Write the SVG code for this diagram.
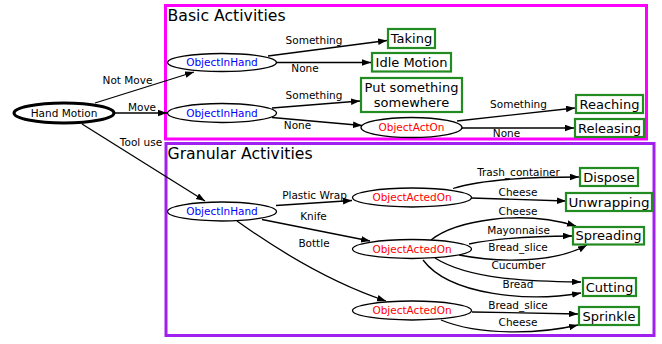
<svg xmlns="http://www.w3.org/2000/svg" width="662" height="344" viewBox="0 0 662 344">
<style>
text{font-family:"DejaVu Sans","Liberation Sans",sans-serif;}
.el{font-size:10.5px;fill:#000;text-anchor:middle;}
.nl{font-size:10.5px;text-anchor:middle;}
.blue{fill:#0000ff;}
.red{fill:#ff0000;}
.bx{fill:#fff;stroke:#228b22;stroke-width:2.2;}
.bt{font-size:13px;fill:#000;text-anchor:middle;}
.ov{fill:#fff;stroke:#000;stroke-width:1.3;}
.e{fill:none;stroke:#000;stroke-width:1.3;marker-end:url(#ah);}
.ttl{font-size:15.7px;fill:#000;}
</style>
<defs>
<marker id="ah" markerUnits="userSpaceOnUse" markerWidth="10" markerHeight="8" refX="9" refY="3.3" orient="auto">
<path d="M0,0 L9,3.3 L0,6.6 z" fill="#000"/>
</marker>
</defs>
<rect width="662" height="344" fill="#fff"/>
<g id="cluster-basic">
<rect x="165.5" y="5.5" width="481" height="133.5" fill="none" stroke="#ff00ff" stroke-width="3"/>
<text class="ttl" x="167.5" y="20.8">Basic Activities</text>
</g>
<g id="cluster-granular">
<rect x="166" y="143.5" width="488" height="192" fill="none" stroke="#a020f0" stroke-width="3"/>
<text class="ttl" x="167.5" y="158.5">Granular Activities</text>
</g>
<g id="connectors">
<path class="e" d="M95,103 L194,72"/>
<text class="el" x="127.5" y="83.8">Not Move</text>
<path class="e" d="M115,113 L167,113"/>
<text class="el" x="142" y="110.5">Move</text>
<path class="e" d="M82,124 L205,201"/>
<text class="el" x="141" y="145.5">Tool use</text>
<path class="e" d="M268,56 L387,40.5"/>
<text class="el" x="314" y="43.8">Something</text>
<path class="e" d="M277,62.5 L371,62.5"/>
<text class="el" x="305" y="71.8">None</text>
<path class="e" d="M272,108 L360,101"/>
<text class="el" x="314" y="98.8">Something</text>
<path class="e" d="M272,117.5 L362,125.5"/>
<text class="el" x="297.5" y="128.8">None</text>
<path class="e" d="M457,121 L575,108"/>
<text class="el" x="518.5" y="107.8">Something</text>
<path class="e" d="M462,128 L574,128"/>
<text class="el" x="506.5" y="137.3">None</text>
<path class="e" d="M276,205.5 L352,200.5"/>
<text class="el" x="314.5" y="198.8">Plastic Wrap</text>
<path class="e" d="M262,219.5 L370,241"/>
<text class="el" x="313.5" y="220.3">Knife</text>
<path class="e" d="M237,221 C265,241 320,279 386,301"/>
<text class="el" x="314" y="246.8">Bottle</text>
<path class="e" d="M453,188.5 C480,180 530,177 579,177"/>
<text class="el" x="518.5" y="175.8">Trash_container</text>
<path class="e" d="M471,198 L566,201"/>
<text class="el" x="518" y="195.8">Cheese</text>
<path class="e" d="M431,240 C455,221 520,209 576,226"/>
<text class="el" x="518" y="214.8">Cheese</text>
<path class="e" d="M469,244 C500,238 540,236 572,236"/>
<text class="el" x="518.5" y="233.8">Mayonnaise</text>
<path class="e" d="M459,255 C500,263 555,263 587,245"/>
<text class="el" x="518" y="250.8">Bread_slice</text>
<path class="e" d="M435,258 C470,280 530,281 581,282"/>
<text class="el" x="518.5" y="268.8">Cucumber</text>
<path class="e" d="M423,260 C450,296 530,302 581,293"/>
<text class="el" x="518" y="287.8">Bread</text>
<path class="e" d="M472,312 L578,314"/>
<text class="el" x="518" y="308.8">Bread_slice</text>
<path class="e" d="M441,320 C480,336 540,334 578,325"/>
<text class="el" x="518" y="325.8">Cheese</text>
</g>
<g id="hand-motion">
<ellipse cx="64" cy="113" rx="50" ry="10" fill="#fff" stroke="#000" stroke-width="3"/>
<text class="nl" x="64" y="116.8" fill="#000">Hand Motion</text>
</g>
<g id="objectinhand-1">
<ellipse class="ov" cx="222" cy="62.5" rx="54.5" ry="9"/>
<text class="nl blue" x="222" y="66.3">ObjectInHand</text>
</g>
<g id="objectinhand-2">
<ellipse class="ov" cx="222" cy="113" rx="54.5" ry="9.5"/>
<text class="nl blue" x="222" y="116.8">ObjectInHand</text>
</g>
<g id="objectinhand-3">
<ellipse class="ov" cx="222" cy="211.5" rx="54.5" ry="9.5"/>
<text class="nl blue" x="222" y="215.3">ObjectInHand</text>
</g>
<g id="objectacton">
<ellipse class="ov" cx="411.5" cy="127.5" rx="50.5" ry="10"/>
<text class="nl red" x="411.5" y="131.3">ObjectActOn</text>
</g>
<g id="objectactedon-1">
<ellipse class="ov" cx="412" cy="197.5" rx="59.5" ry="9.5"/>
<text class="nl red" x="412" y="201.3">ObjectActedOn</text>
</g>
<g id="objectactedon-2">
<ellipse class="ov" cx="412" cy="249" rx="59.5" ry="9.5"/>
<text class="nl red" x="412" y="252.8">ObjectActedOn</text>
</g>
<g id="objectactedon-3">
<ellipse class="ov" cx="412" cy="310.5" rx="59.5" ry="9.5"/>
<text class="nl red" x="412" y="314.3">ObjectActedOn</text>
</g>
<g id="taking">
<rect class="bx" x="388" y="29" width="47" height="19"/>
<text class="bt" x="411.5" y="43.2">Taking</text>
</g>
<g id="idle-motion">
<rect class="bx" x="372" y="53" width="79" height="18.5"/>
<text class="bt" x="411.5" y="66.9">Idle Motion</text>
</g>
<g id="put-something">
<rect class="bx" x="361" y="78" width="101" height="34"/>
<text class="bt" x="411.5" y="91.5">Put something</text>
<text class="bt" x="411.5" y="106.5">somewhere</text>
</g>
<g id="reaching">
<rect class="bx" x="576" y="95" width="67" height="18"/>
<text class="bt" x="609.5" y="108.7">Reaching</text>
</g>
<g id="releasing">
<rect class="bx" x="575" y="119" width="69" height="18"/>
<text class="bt" x="609.5" y="132.7" textLength="63" lengthAdjust="spacingAndGlyphs">Releasing</text>
</g>
<g id="dispose">
<rect class="bx" x="580" y="168" width="58" height="18"/>
<text class="bt" x="609" y="181.7">Dispose</text>
</g>
<g id="unwrapping">
<rect class="bx" x="566" y="193" width="86" height="18"/>
<text class="bt" x="609" y="206.7" textLength="81" lengthAdjust="spacingAndGlyphs">Unwrapping</text>
</g>
<g id="spreading">
<rect class="bx" x="573" y="227" width="71" height="17.5"/>
<text class="bt" x="608.5" y="240.4">Spreading</text>
</g>
<g id="cutting">
<rect class="bx" x="583" y="278" width="53" height="18"/>
<text class="bt" x="609.5" y="291.7">Cutting</text>
</g>
<g id="sprinkle">
<rect class="bx" x="579" y="307" width="60" height="18"/>
<text class="bt" x="609" y="320.7">Sprinkle</text>
</g>
</svg>
